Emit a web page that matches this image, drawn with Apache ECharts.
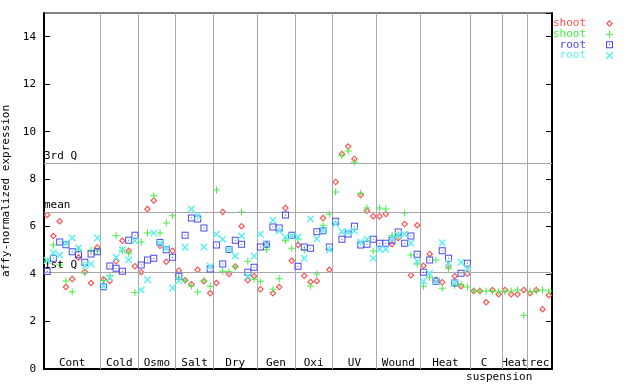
<!DOCTYPE html>
<html><head><meta charset="utf-8">
<script src="https://cdn.jsdelivr.net/npm/echarts/dist/echarts.min.js"></script>
<style>html,body{margin:0;padding:0;background:#fff}#c{width:640px;height:384px}</style>
</head><body><div id="c"></div>
<script>
// ---- data ----
const groups = ['Cont','Cold','Osmo','Salt','Dry','Gen','Oxi','UV','Wound','Heat','C suspension','Heat','rec'];
const groupSizes = [9,6,6,6,7,6,6,7,7,8,5,4,4];
const seriesNames = ['shoot rep1','shoot rep2','root rep1','root rep2'];
const legendLabels = ['shoot','shoot','root','root'];
const shoot1 = [6.49,5.60,6.23,3.45,3.79,4.70,4.10,3.62,5.12,
  3.78,3.71,4.54,5.40,4.98,4.33,
  4.08,6.74,7.10,5.19,4.52,4.98,
  4.15,3.74,3.57,4.18,3.70,3.19,
  3.62,6.61,4.00,4.32,6.02,3.74,3.91,
  3.36,5.23,3.19,3.45,6.78,4.56,
  5.22,3.93,3.67,3.71,6.36,4.18,
  7.88,9.06,9.37,8.85,7.33,6.67,6.44,
  6.44,6.53,5.26,5.52,6.11,3.95,6.06,
  4.35,4.85,3.76,3.66,4.35,3.91,3.49,4.01,
  3.29,3.29,2.81,3.33,3.15,
  3.33,3.15,3.15,3.33,
  3.19,3.33,2.52,3.11];
const shoot2 = [4.55,5.22,4.38,3.71,3.25,5.05,4.05,5.00,4.98,
  3.73,3.92,5.61,5.00,4.88,3.22,
  5.35,5.73,7.30,5.73,6.15,6.46,
  3.85,3.74,3.50,3.24,3.74,3.49,
  7.54,4.12,4.10,4.30,6.61,4.54,3.78,
  3.70,5.02,3.36,3.80,5.40,5.09,
  5.49,5.01,3.50,4.00,6.06,6.53,
  7.46,8.98,9.19,8.71,7.41,6.78,4.97,
  6.78,6.74,5.64,5.60,6.57,4.80,4.42,
  3.49,3.87,4.59,3.40,4.25,3.53,3.57,3.45,
  3.29,3.29,3.29,3.29,3.25,
  3.25,3.29,3.33,2.27,
  3.25,3.29,3.33,3.29];
const root1 = [4.11,4.67,5.35,5.23,4.94,4.81,4.50,4.85,4.94,
  3.47,4.34,4.25,4.12,5.43,5.64,
  4.38,4.59,4.67,5.33,5.02,4.71,
  3.91,5.64,6.36,6.32,5.94,4.21,
  5.22,4.42,5.04,5.43,5.26,4.08,4.29,
  5.14,5.26,5.98,5.94,6.49,5.64,
  4.33,5.14,5.09,5.78,5.83,5.14,
  6.23,5.47,5.69,6.02,5.22,5.26,5.47,
  5.30,5.30,5.43,5.77,5.30,5.60,4.84,
  4.08,4.59,3.70,4.98,4.67,3.62,4.03,4.46];
const root2 = [4.57,4.90,4.80,5.30,5.52,5.10,4.35,4.42,5.52,
  3.50,3.85,4.70,5.02,4.60,5.40,
  3.33,3.76,5.73,5.30,5.09,3.41,
  3.72,5.13,6.74,6.47,5.14,4.33,
  5.68,5.47,5.04,4.76,5.60,3.91,4.76,
  5.68,5.26,6.27,5.81,5.56,5.60,
  5.56,4.67,6.32,5.49,5.85,5.01,
  6.11,5.78,5.78,5.81,5.35,5.47,4.67,
  5.05,5.05,5.50,5.64,5.68,5.30,4.54,
  3.70,4.03,3.70,5.32,4.46,3.62,4.50,4.21];
const refLines = [['3rd Q', 8.69], ['mean', 6.62], ['1st Q', 4.09]];
const yMin = 0, yMax = 15, yStep = 2;

// ---- styling ----
const FONT = "'DejaVu Sans Mono', monospace";
const colors = ['#ff4d4d', '#44ee44', '#4a4af0', '#5af0f0'];
const symbols = [
  'path://M3.5 0L7 3.5L3.5 7L0 3.5ZM3.5 1.6L1.6 3.5L3.5 5.4L5.4 3.5Z',
  'path://M3 0H4V3H7V4H4V7H3V4H0V3H3Z',
  'path://M0 0H7V7H0ZM1 1V6H6V1ZM3 3H4V4H3Z',
  'path://M0 0L1 0L3.5 2.5L6 0L7 0L7 1L4.5 3.5L7 6L7 7L6 7L3.5 4.5L1 7L0 7L0 6L2.5 3.5L0 1Z'
];
const allSeries = [shoot1, shoot2, root1, root2];
const nSlots = groupSizes.reduce((a, b) => a + b, 0);

const bounds = [];
let acc = 0;
const areas = [];
groupSizes.forEach((n, i) => {
  const start = acc; acc += n;
  if (i < groupSizes.length - 1) bounds.push(acc);
  areas.push([{ xAxis: start, name: groups[i] }, { xAxis: acc }]);
});

const lineGray = '#a8a8a8';
const series = allSeries.map((vals, k) => ({
  name: seriesNames[k],
  type: 'scatter',
  symbol: symbols[k],
  symbolSize: 7,
  itemStyle: { color: colors[k], opacity: 1 },
  z: 3 + k,
  silent: true,
  data: vals.map((v, i) => [i + 0.5, v])
}));
series.unshift({
  name: 'frame',
  type: 'scatter',
  data: [],
  silent: true,
  markLine: {
    silent: true, symbol: 'none', animation: false,
    lineStyle: { color: lineGray, width: 1, type: 'solid' },
    label: { show: false },
    data: bounds.map(b => ({ xAxis: b }))
      .concat(refLines.map(r => ({
        yAxis: r[1], name: r[0],
        label: { show: true, position: 'insideStartTop', formatter: '{b}', distance: [0, 1],
                 color: '#000', fontFamily: FONT, fontSize: 11, padding: 0 }
      })))
  },
  markArea: {
    silent: true,
    itemStyle: { color: 'rgba(0,0,0,0)' },
    label: {
      show: true, position: 'insideBottom', distance: 0, color: '#000',
      fontFamily: FONT, fontSize: 11, lineHeight: 12,
      formatter: p => {
        const parts = p.name.split(' ');
        if (parts.length > 1) return '{c|' + parts[0] + '}\n{s|' + parts.slice(1).join(' ') + '}';
        return p.name;
      },
      rich: { c: { fontFamily: FONT, fontSize: 11, lineHeight: 12 },
              s: { fontFamily: FONT, fontSize: 11, lineHeight: 16, padding: [0, 0, 0, 30] } }
    },
    data: areas.map(a => {
      if (a[0].name.indexOf(' ') > 0) {
        return [Object.assign({}, a[0], { label: { offset: [-2, 16] } }), a[1]];
      }
      return a;
    })
  }
});

const legendTops = [18, 28.7, 39.3, 50];
const legends = seriesNames.map((n, k) => ({
  data: [{ name: n, textStyle: { color: colors[k] } }],
  right: 27, top: legendTops[k], orient: 'vertical', align: 'right',
  itemWidth: 7, itemHeight: 7, padding: 0, selectedMode: false,
  formatter: () => '{t|' + legendLabels[k] + '}',
  textStyle: { fontFamily: FONT, fontSize: 11, color: colors[k],
               rich: { t: { fontFamily: FONT, fontSize: 11, color: colors[k], padding: [0, 15, 0, 0] } } }
}));

const chart = echarts.init(document.getElementById('c'), null, { renderer: 'canvas' });
chart.setOption({
  animation: false,
  backgroundColor: '#fff',
  textStyle: { fontFamily: FONT },
  grid: { left: 44, right: 88, top: 13, bottom: 15, containLabel: false, outerBoundsMode: 'none',
          show: true, borderColor: '#000', borderWidth: 1 },
  legend: legends,
  xAxis: {
    type: 'value', min: 0, max: nSlots,
    axisLine: { show: true, lineStyle: { color: '#000', width: 2 } },
    axisTick: { show: false }, axisLabel: { show: false }, splitLine: { show: false }
  },
  yAxis: [{
    type: 'value', min: yMin, max: yMax, interval: yStep,
    name: 'affy-normalized expression', nameLocation: 'middle', nameGap: 26, nameRotate: 90,
    nameTextStyle: { fontFamily: FONT, fontSize: 11, color: '#000' },
    axisLine: { show: true, lineStyle: { color: '#000', width: 2 } },
    axisTick: { show: true, inside: true, length: 6, lineStyle: { color: '#000' } },
    axisLabel: { margin: 8, color: '#000', fontFamily: FONT, fontSize: 11, showMaxLabel: false },
    splitLine: { show: false }
  }, {
    type: 'value', min: yMin, max: yMax, interval: yStep, position: 'right',
    axisLine: { show: true, lineStyle: { color: '#000', width: 2 } },
    axisTick: { show: true, inside: true, length: 6, lineStyle: { color: '#000' } },
    axisLabel: { show: false }, splitLine: { show: false }
  }],
  series: series
});
</script></body></html>
